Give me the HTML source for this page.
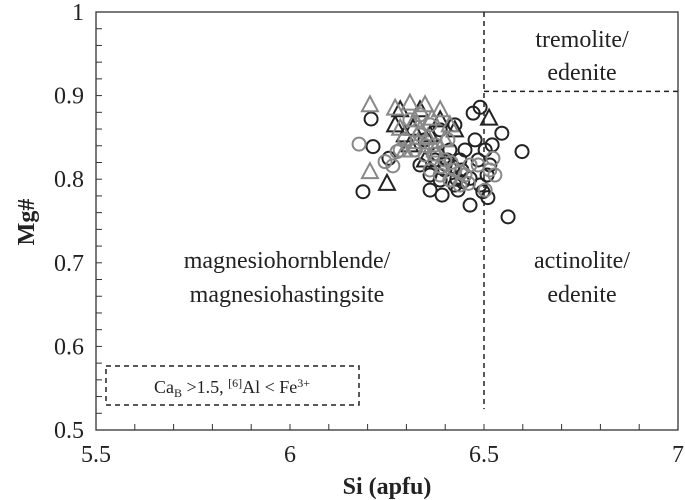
<!DOCTYPE html>
<html><head><meta charset="utf-8"><style>
body{margin:0;background:#fff}
svg{display:block;font-family:"Liberation Serif",serif}
</style></head><body>
<svg id="c" width="685" height="500">
<g id="axes"></g><g id="marks"></g>
</svg>
<script>
const xTicks=[5.5,6,6.5,7];
const yTicks=[0.5,0.6,0.7,0.8,0.9,1];
const blackCircleSi=[6.209,6.214,6.188,6.255,6.490,6.472,6.546,6.598,6.562,6.464,6.510,6.497,6.508,6.515,6.503,6.425,6.387,6.361,6.399,6.438,6.477,6.451,6.374,6.412,6.335,6.361,6.433,6.392,6.464,6.490,6.348,6.387,6.425,6.322,6.443,6.521,6.485,6.405,6.420,6.400,6.380,6.430,6.445];
const blackCircleMg=[0.872,0.839,0.785,0.825,0.886,0.879,0.855,0.833,0.755,0.769,0.778,0.785,0.805,0.817,0.835,0.793,0.799,0.805,0.811,0.823,0.847,0.835,0.823,0.835,0.817,0.787,0.787,0.781,0.801,0.793,0.847,0.859,0.865,0.835,0.811,0.841,0.823,0.823,0.815,0.818,0.830,0.800,0.797];
const grayCircleSi=[6.178,6.276,6.265,6.245,6.309,6.335,6.361,6.296,6.322,6.348,6.374,6.399,6.425,6.451,6.464,6.485,6.515,6.528,6.523,6.412,6.387,6.361,6.335,6.284,6.438,6.503,6.407,6.390,6.415,6.440,6.460,6.370,6.350];
const grayCircleMg=[0.842,0.833,0.816,0.821,0.871,0.877,0.865,0.847,0.835,0.829,0.841,0.823,0.811,0.805,0.817,0.817,0.811,0.805,0.825,0.799,0.805,0.811,0.853,0.835,0.793,0.787,0.847,0.815,0.820,0.808,0.795,0.830,0.840];
const blackTriSi=[6.250,6.513,6.335,6.317,6.271,6.284,6.361,6.387,6.425,6.296,6.348,6.309];
const blackTriMg=[0.795,0.873,0.883,0.861,0.865,0.883,0.853,0.871,0.859,0.853,0.823,0.841];
const grayTriSi=[6.206,6.206,6.271,6.309,6.348,6.387,6.284,6.322,6.366,6.412,6.399,6.335,6.296,6.374,6.355,6.330];
const grayTriMg=[0.889,0.809,0.885,0.891,0.889,0.883,0.861,0.871,0.873,0.865,0.847,0.859,0.835,0.835,0.850,0.845];

const X0=96,X1=678,Y0=430,Y1=12;
const xs=v=>X0+(v-5.5)/1.5*(X1-X0);
const ys=v=>Y0-(v-0.5)/0.5*(Y0-Y1);
const NS="http://www.w3.org/2000/svg";
function mk(p,tag,a){const e=document.createElementNS(NS,tag);for(const k in a)e.setAttribute(k,a[k]);p.appendChild(e);return e;}
const ax=document.getElementById('axes'),mg=document.getElementById('marks');
let fr=mk(ax,'rect',{x:X0,y:Y1,width:X1-X0,height:Y0-Y1,fill:'none',stroke:'#333','stroke-width':1.3});

for(let i=1;i<15;i++){const x=xs(5.5+i*0.1);mk(ax,'line',{x1:x,x2:x,y1:Y0,y2:Y0-6,stroke:'#333'});}
for(let i=1;i<25;i++){const y=ys(0.5+i*0.02);mk(ax,'line',{x1:X0,x2:X0+6,y1:y,y2:y,stroke:'#333'});}
xTicks.forEach(v=>{const t=mk(ax,'text',{x:xs(v),y:462,'text-anchor':'middle','font-size':24,fill:'#222'});t.textContent=String(v);
});
yTicks.forEach(v=>{const t=mk(ax,'text',{x:84,y:ys(v)+8,'text-anchor':'end','font-size':24,fill:'#222'});t.textContent=String(v);
});
let xt=mk(ax,'text',{x:387,y:494,'text-anchor':'middle','font-size':24,'font-weight':'bold',fill:'#222'});xt.textContent='Si (apfu)';

let yt=mk(ax,'text',{x:0,y:0,'text-anchor':'middle','font-size':24,'font-weight':'bold',fill:'#222',transform:'translate(34,222) rotate(-90)'});yt.textContent='Mg#';

let dv=mk(ax,'line',{x1:xs(6.5),x2:xs(6.5),y1:Y1,y2:ys(0.525),stroke:'#222','stroke-width':1.5,'stroke-dasharray':'5,4'});

let dh=mk(ax,'line',{x1:xs(6.5),x2:X1,y1:ys(0.905),y2:ys(0.905),stroke:'#222','stroke-width':1.5,'stroke-dasharray':'5,4'});

let bx=mk(ax,'rect',{x:106,y:366,width:253,height:39,fill:'none',stroke:'#222','stroke-width':1.5,'stroke-dasharray':'5,4'});

function lab(x,y,s,name){const t=mk(ax,'text',{x:x,y:y,'text-anchor':'middle','font-size':24,fill:'#222'});t.textContent=s;
}
lab(582,47,'tremolite/','tremolite-label');lab(582,80,'edenite','tremolite-label-2');
lab(287,268,'magnesiohornblende/','magnesiohornblende-label');lab(287,302,'magnesiohastingsite','magnesiohastingsite-label');
lab(582,268,'actinolite/','actinolite-label');lab(582,302,'edenite','actinolite-label-2');
const ct=mk(ax,'text',{x:232,y:393,'text-anchor':'middle','font-size':18,fill:'#222'});
ct.innerHTML='Ca<tspan font-size="12" dy="4">B</tspan><tspan dy="-4"> &gt;1.5, </tspan><tspan font-size="12" dy="-6">[6]</tspan><tspan dy="6">Al &lt; Fe</tspan><tspan font-size="12" dy="-6">3+</tspan>';

function circles(S,M,col,name){S.forEach((s,i)=>{const c=mk(mg,'circle',{cx:xs(s),cy:ys(M[i]),r:6.5,fill:'none',stroke:col,'stroke-width':2});
});}
function tris(S,M,col,name){S.forEach((s,i)=>{const x=xs(s),y=ys(M[i]);const p=mk(mg,'polygon',{points:`${x},${y-8.5} ${x-8},${y+6.5} ${x+8},${y+6.5}`,fill:'none',stroke:col,'stroke-width':2});
});}
circles(blackCircleSi,blackCircleMg,'#222','black-circle-point');
tris(blackTriSi,blackTriMg,'#222','black-triangle-point');
circles(grayCircleSi,grayCircleMg,'#888','gray-circle-point');
tris(grayTriSi,grayTriMg,'#888','gray-triangle-point');
</script>
</body></html>
